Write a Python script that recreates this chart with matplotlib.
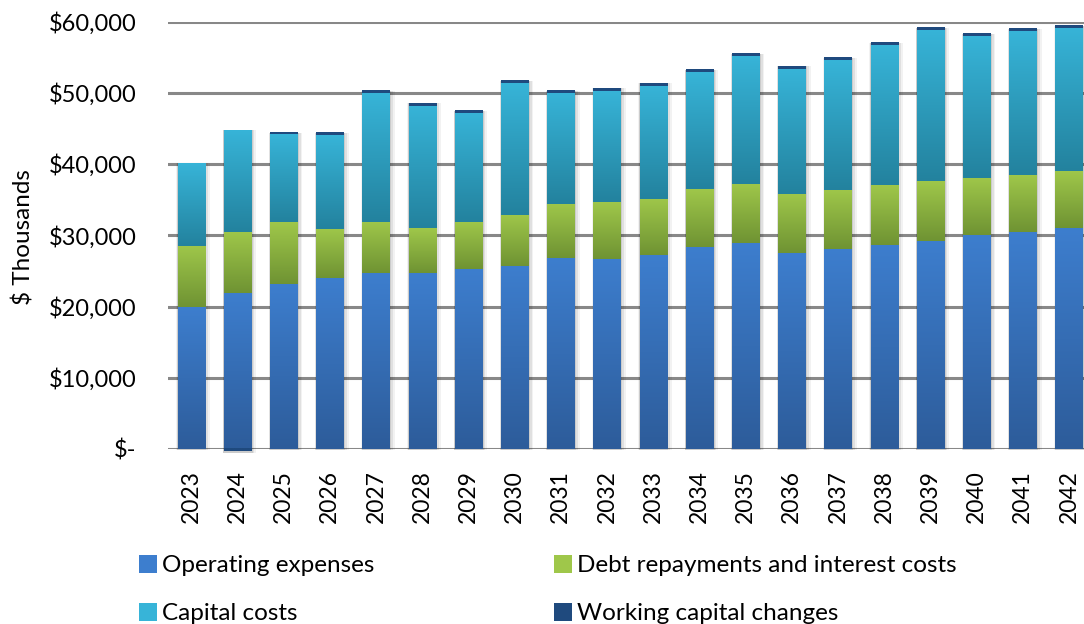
import matplotlib.pyplot as plt
from matplotlib.colors import LinearSegmentedColormap
from matplotlib.patches import Rectangle
import numpy as np

years = [str(y) for y in range(2023, 2043)]
# $ thousands
opex = [19900, 21900, 23200, 24000, 24700, 24700, 25200, 25700, 26800, 26700,
        27200, 28400, 28900, 27500, 28100, 28700, 29200, 30000, 30500, 31000]
debt = [8600, 8600, 8700, 6900, 7200, 6300, 6700, 7200, 7600, 8000,
        7900, 8100, 8300, 8300, 8300, 8400, 8400, 8100, 8000, 8000]
capital = [11600, 14300, 12300, 13100, 18100, 17200, 15300, 18400, 15600, 15600,
           15900, 16400, 17900, 17600, 18200, 19600, 21200, 19900, 20100, 20100]
working = [0, -350, 200, 300, 300, 300, 300, 300, 300, 300,
           300, 300, 300, 300, 300, 300, 300, 300, 300, 300]

names = ['Operating expenses', 'Debt repayments and interest costs',
         'Capital costs', 'Working capital changes']
grads = [('#3D7ECE', '#2D5C9A'), ('#9FC74A', '#6F9333'),
         ('#37B4D8', '#23829E'), ('#1F4A7E', '#1F4A7E')]

plt.rcParams['font.family'] = ['Lato', 'DejaVu Sans']

fig = plt.figure(figsize=(10.84, 6.24), dpi=100)
ax = fig.add_axes([168 / 1084, 1 - 449 / 624, 924 / 1084, 427.5 / 624])

x = np.arange(len(years))
w = 0.585
series = [opex, debt, capital, working]

# stack positives from zero, negatives below zero
pos_base = np.zeros(len(x))
neg_base = np.zeros(len(x))
all_bars = []
for vals, name, (top_c, bot_c) in zip(series, names, grads):
    vals = np.array(vals, dtype=float)
    bottoms = np.where(vals >= 0, pos_base, neg_base)
    bars = ax.bar(x, vals, w, bottom=bottoms, color=top_c, label=name,
                  linewidth=0, zorder=3)
    all_bars.append((bars, top_c, bot_c))
    pos_base = pos_base + np.where(vals > 0, vals, 0)
    neg_base = neg_base + np.where(vals < 0, vals, 0)

# soft shadow behind each stack
for i in x:
    for k, a in [(0.09, 0.05), (0.06, 0.07), (0.03, 0.09)]:
        sh = Rectangle((i - w / 2 - k * 0.3, neg_base[i] - 150),
                       w + k * 1.6, pos_base[i] - neg_base[i] + 150,
                       facecolor='black', alpha=a, linewidth=0, zorder=2,
                       clip_on=False)
        ax.add_patch(sh)

# vertical gradient fill inside every segment
grad = np.linspace(0, 1, 256).reshape(-1, 1)
for bars, top_c, bot_c in all_bars:
    cmap = LinearSegmentedColormap.from_list('g', [bot_c, top_c])
    for p in bars.patches:
        x0, y0 = p.get_x(), p.get_y()
        x1, y1 = x0 + p.get_width(), y0 + p.get_height()
        if p.get_height() == 0:
            continue
        lo, hi = min(y0, y1), max(y0, y1)
        im = ax.imshow(grad, extent=[x0, x1, lo, hi], origin='lower',
                       cmap=cmap, aspect='auto', zorder=4)
        im.set_clip_on(False)

ax.set_xlim(-0.5, len(x) - 0.5)
ax.set_ylim(0, 60000)
ax.set_yticks(range(0, 60001, 10000))
ax.set_yticklabels(['$-'] + ['${:,}'.format(v) for v in range(10000, 60001, 10000)])
ax.set_xticks(x)
ax.set_xticklabels(years, rotation=90)
ax.tick_params(axis='both', length=0, colors='black')
ax.tick_params(axis='y', pad=22.5, labelsize=17)
ax.tick_params(axis='x', pad=15, labelsize=16.5)
for s in ax.spines.values():
    s.set_visible(False)
ax.yaxis.grid(True, color='#888888', linewidth=2.2, zorder=1)
ax.set_axisbelow(True)
ax.set_ylabel('$ Thousands', fontsize=17.5)
ax.yaxis.set_label_coords(-0.145, 0.495)

fig.legend(handles=[all_bars[0][0], all_bars[2][0], all_bars[1][0], all_bars[3][0]],
           labels=[names[0], names[2], names[1], names[3]],
           loc='upper left', bbox_to_anchor=(117 / 1084, 1 - 533 / 624),
           ncol=2, frameon=False, fontsize=17.5, handlelength=0.75,
           handleheight=0.75, handletextpad=0.2, columnspacing=7.4,
           labelspacing=1.1)

fig.savefig('out.png', dpi=100)
